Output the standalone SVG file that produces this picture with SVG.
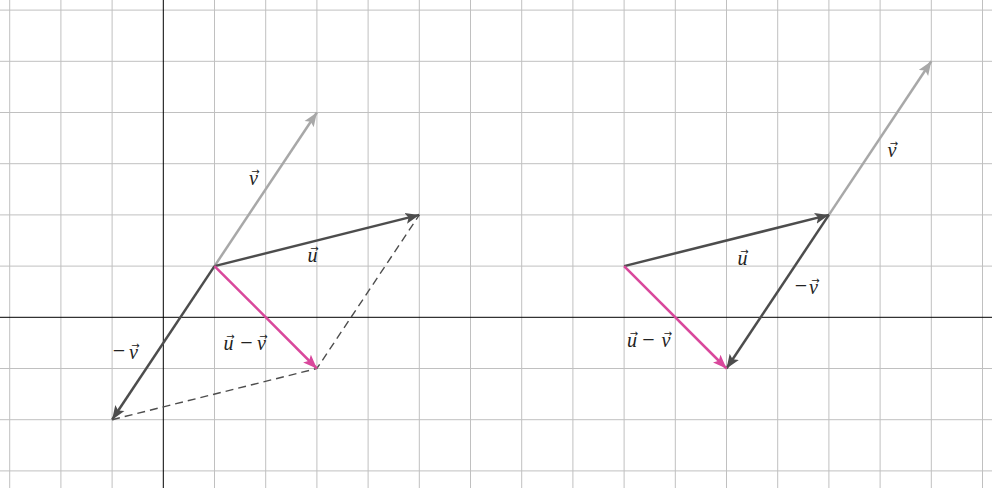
<svg xmlns="http://www.w3.org/2000/svg" width="992" height="488" viewBox="0 0 992 488">
<style>
.grid line{stroke:#c0c0c0;stroke-width:1}
.axis{stroke:#000;stroke-width:1}
.vu{stroke:#4d4d4d;stroke-width:2.5;fill:none}
.vv{stroke:#a8a8a8;stroke-width:2.5;fill:none}
.vd{stroke:#d9489c;stroke-width:2.5;fill:none}
.dash{stroke:#4d4d4d;stroke-width:1.4;stroke-dasharray:8 5;fill:none}
.t{font-family:"Liberation Serif","DejaVu Serif",serif;font-size:20px;fill:#222;text-anchor:middle}
.l{font-style:italic}
.m{font-style:normal;font-size:22px}
.a{font-family:"DejaVu Sans",sans-serif;font-style:normal;font-size:10px}
</style>
<defs>
<marker id="ah-u" viewBox="-14 -6 15 12" refX="0" refY="0" markerWidth="15" markerHeight="12" markerUnits="userSpaceOnUse" orient="auto"><path d="M0,0 L-14,-5.5 L-11,0 L-14,5.5 Z" fill="#4d4d4d"/></marker>
<marker id="ah-v" viewBox="-14 -6 15 12" refX="0" refY="0" markerWidth="15" markerHeight="12" markerUnits="userSpaceOnUse" orient="auto"><path d="M0,0 L-14,-5.5 L-11,0 L-14,5.5 Z" fill="#a8a8a8"/></marker>
<marker id="ah-d" viewBox="-14 -6 15 12" refX="0" refY="0" markerWidth="15" markerHeight="12" markerUnits="userSpaceOnUse" orient="auto"><path d="M0,0 L-14,-5.5 L-11,0 L-14,5.5 Z" fill="#d9489c"/></marker>
</defs>
<rect width="992" height="488" fill="#fff"/>
<g class="grid">
<line x1="9.7" y1="0" x2="9.7" y2="488"/><line x1="60.9" y1="0" x2="60.9" y2="488"/><line x1="112.1" y1="0" x2="112.1" y2="488"/><line x1="214.5" y1="0" x2="214.5" y2="488"/><line x1="265.7" y1="0" x2="265.7" y2="488"/><line x1="316.9" y1="0" x2="316.9" y2="488"/><line x1="368.1" y1="0" x2="368.1" y2="488"/><line x1="419.3" y1="0" x2="419.3" y2="488"/><line x1="470.5" y1="0" x2="470.5" y2="488"/><line x1="521.7" y1="0" x2="521.7" y2="488"/><line x1="572.9" y1="0" x2="572.9" y2="488"/><line x1="624.1" y1="0" x2="624.1" y2="488"/><line x1="675.3" y1="0" x2="675.3" y2="488"/><line x1="726.5" y1="0" x2="726.5" y2="488"/><line x1="777.7" y1="0" x2="777.7" y2="488"/><line x1="828.9" y1="0" x2="828.9" y2="488"/><line x1="880.1" y1="0" x2="880.1" y2="488"/><line x1="931.3" y1="0" x2="931.3" y2="488"/><line x1="982.5" y1="0" x2="982.5" y2="488"/>
<line x1="0" y1="10.1" x2="992" y2="10.1"/><line x1="0" y1="61.3" x2="992" y2="61.3"/><line x1="0" y1="112.5" x2="992" y2="112.5"/><line x1="0" y1="163.7" x2="992" y2="163.7"/><line x1="0" y1="214.9" x2="992" y2="214.9"/><line x1="0" y1="266.1" x2="992" y2="266.1"/><line x1="0" y1="368.5" x2="992" y2="368.5"/><line x1="0" y1="419.7" x2="992" y2="419.7"/><line x1="0" y1="470.9" x2="992" y2="470.9"/>
</g>
<g id="axes">
<line class="axis" x1="0" y1="317.3" x2="992" y2="317.3"/>
<line class="axis" x1="163.3" y1="0" x2="163.3" y2="488"/>
</g>
<g id="connectors">
<path class="dash" d="M112.1,419.7 L316.9,368.5 L419.3,214.9"/>
<path id="left-v" class="vv" d="M214.5,266.1 L316.9,112.5" marker-end="url(#ah-v)"/>
<path id="left-u" class="vu" d="M214.5,266.1 L419.3,214.9" marker-end="url(#ah-u)"/>
<path id="left-negv" class="vu" d="M214.5,266.1 L112.1,419.7" marker-end="url(#ah-u)"/>
<path id="left-umv" class="vd" d="M214.5,266.1 L316.9,368.5" marker-end="url(#ah-d)"/>
<path id="right-v" class="vv" d="M828.9,214.9 L931.3,61.3" marker-end="url(#ah-v)"/>
<path id="right-u" class="vu" d="M624.1,266.1 L828.9,214.9" marker-end="url(#ah-u)"/>
<path id="right-negv" class="vu" d="M828.9,214.9 L726.5,368.5" marker-end="url(#ah-u)"/>
<path id="right-umv" class="vd" d="M624.1,266.1 L726.5,368.5" marker-end="url(#ah-d)"/>
</g>
<g id="label-left-v"><text class="t"><tspan class="l" x="253.5" y="185">v</tspan><tspan class="a" x="255.5" y="174.5">→</tspan></text></g>
<g id="label-left-u"><text class="t"><tspan class="l" x="312.5" y="262">u</tspan><tspan class="a" x="314.5" y="251.5">→</tspan></text></g>
<g id="label-left-negv"><text class="t"><tspan class="m" x="119" y="358">−</tspan><tspan class="l" x="133.5" y="359">v</tspan><tspan class="a" x="135.5" y="348.5">→</tspan></text></g>
<g id="label-left-umv"><text class="t"><tspan class="l" x="228.5" y="350">u</tspan><tspan class="a" x="230.5" y="339.5">→</tspan><tspan class="m" x="246.5" y="350">−</tspan><tspan class="l" x="261.5" y="350">v</tspan><tspan class="a" x="263.5" y="339.5">→</tspan></text></g>
<g id="label-right-v"><text class="t"><tspan class="l" x="892" y="157">v</tspan><tspan class="a" x="894" y="146.5">→</tspan></text></g>
<g id="label-right-u"><text class="t"><tspan class="l" x="742.5" y="265">u</tspan><tspan class="a" x="744.5" y="254.5">→</tspan></text></g>
<g id="label-right-negv"><text class="t"><tspan class="m" x="801" y="293">−</tspan><tspan class="l" x="813.5" y="294">v</tspan><tspan class="a" x="815.5" y="283.5">→</tspan></text></g>
<g id="label-right-umv"><text class="t"><tspan class="l" x="632" y="347">u</tspan><tspan class="a" x="634" y="336.5">→</tspan><tspan class="m" x="648.5" y="347">−</tspan><tspan class="l" x="666" y="347">v</tspan><tspan class="a" x="668" y="336.5">→</tspan></text></g>
</svg>
